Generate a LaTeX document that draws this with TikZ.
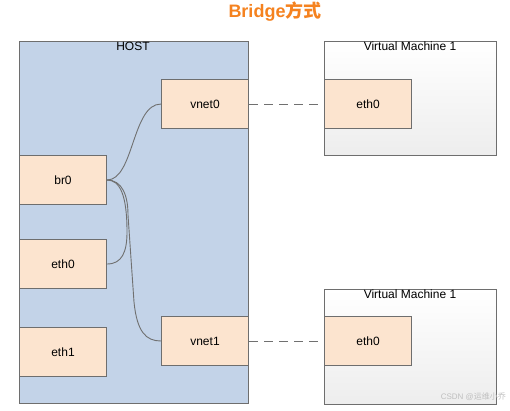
\documentclass[tikz,border=0pt]{standalone}
\usepackage{fontspec}
\setmainfont{Liberation Sans}
\newfontfamily\cjk{Noto Sans CJK SC}
\definecolor{hostfill}{HTML}{C3D3E8}
\definecolor{boxfill}{HTML}{FCE4CF}
\definecolor{edgegray}{HTML}{6E6E6E}
\definecolor{linegray}{HTML}{707070}
\definecolor{titleorange}{HTML}{F5821F}
\tikzset{
  netbox/.style={draw=edgegray, line width=1pt, fill=boxfill, minimum width=87pt, minimum height=49pt, inner sep=0pt, anchor=north west, font=\fontsize{12}{14}\selectfont},
  conn/.style={draw=linegray, line width=0.9pt},
  dashconn/.style={draw=linegray, line width=0.9pt, dash pattern=on 9pt off 6pt},
}
\begin{document}
\begin{tikzpicture}[x=1pt,y=-1pt]
\useasboundingbox (0,0) rectangle (510,410);
\fill[white] (0,0) rectangle (510,410);
% title
\node[font=\bfseries\fontsize{18}{20}\selectfont, text=titleorange, inner sep=0pt] (title) at (275,12) {Bridge{\cjk 方式}};
% host
\node[draw=edgegray, line width=1pt, fill=hostfill, minimum width=229pt, minimum height=362pt, inner sep=0pt, anchor=north west] (host) at (19,41) {};
\node[font=\fontsize{12}{14}\selectfont, anchor=north, inner sep=0pt] (hostlbl) at (133,42) {HOST};
% VMs
\node[draw=edgegray, line width=1pt, top color=white, bottom color=black!7, minimum width=172pt, minimum height=114pt, inner sep=0pt, anchor=north west] (vm1) at (324,41) {};
\node[font=\fontsize{12}{14}\selectfont, anchor=north, inner sep=0pt] (vm1lbl) at (410,42) {Virtual Machine 1};
\node[draw=edgegray, line width=1pt, top color=white, bottom color=black!7, minimum width=172pt, minimum height=115pt, inner sep=0pt, anchor=north west] (vm2) at (324,289) {};
\node[font=\fontsize{12}{14}\selectfont, anchor=north, inner sep=0pt] (vm2lbl) at (410,290) {Virtual Machine 1};
% boxes
\node[netbox] (vnet0) at (161,79) {vnet0};
\node[netbox] (br0) at (19,155) {br0};
\node[netbox] (eth0h) at (19,239) {eth0};
\node[netbox] (eth1) at (19,327) {eth1};
\node[netbox] (vnet1) at (161,316) {vnet1};
\node[netbox] (vmeth0a) at (324,79) {eth0};
\node[netbox] (vmeth0b) at (324,316) {eth0};
% waypoints
\coordinate (w1) at (127,232);
\coordinate (w2) at (128,215);
\coordinate (w3) at (134,302);
% connectors
\draw[conn] (br0.east) .. controls (134,180) and (132,104) .. (vnet0.west);
\draw[conn] (eth0h.east) .. controls (122,264) and (127,252) .. (w1) .. controls (127,195) and (120,180) .. (br0.east);
\draw[conn] (br0.east) .. controls (122,180) and (128,195) .. (w2) -- (w3) .. controls (137,332) and (146,341) .. (vnet1.west);
\draw[dashconn] (vnet0.east) -- (vmeth0a.west);
\draw[dashconn] (vnet1.east) -- (vmeth0b.west);
% watermark
\node[font=\fontsize{8}{9}\selectfont, text=black!25, anchor=east, inner sep=0pt] (wm) at (506,397) {CSDN @{\cjk 运维小乔}};
\end{tikzpicture}
\end{document}
